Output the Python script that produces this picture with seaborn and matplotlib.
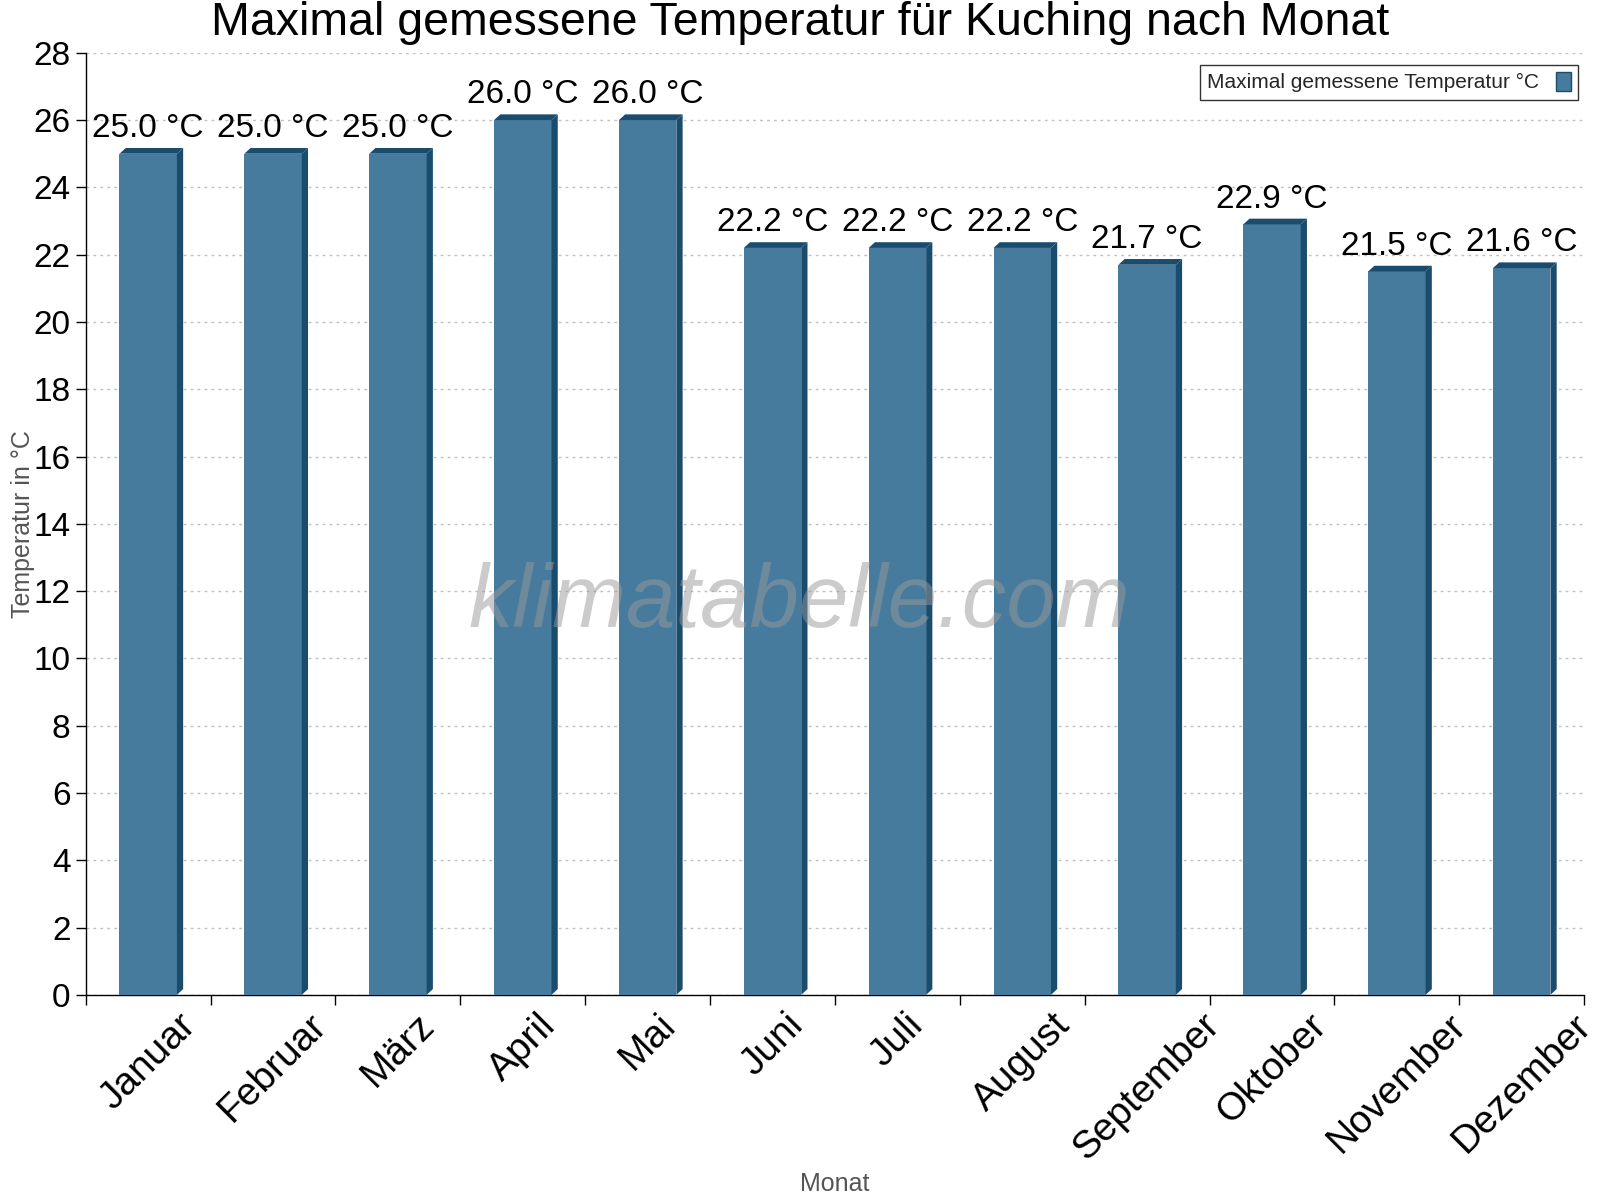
import numpy as np
import pandas as pd
import matplotlib
matplotlib.use("Agg")
import matplotlib.pyplot as plt
from matplotlib.patches import Polygon, Patch
import seaborn as sns

# ── Data ──────────────────────────────────────────────────────────────────────
months = ["Januar", "Februar", "März", "April", "Mai", "Juni", "Juli",
          "August", "September", "Oktober", "November", "Dezember"]
temp_max = [25.0, 25.0, 25.0, 26.0, 26.0, 22.2, 22.2, 22.2, 21.7, 22.9, 21.5, 21.6]

FRONT = "#467b9e"
DARK = "#1a4c6e"
GRID = "#c0c0c0"

sns.set_theme(style="white")
plt.rcParams["font.family"] = ["Liberation Sans", "DejaVu Sans"]

df = pd.DataFrame({"Monat": months, "Temp": temp_max})

fig = plt.figure(figsize=(16, 12), dpi=100)
ax = fig.add_axes([0.0536, 0.171, 0.9365, 0.785])

sns.barplot(data=df, x="Monat", y="Temp", color=FRONT, width=0.46,
            saturation=1, ax=ax, zorder=3)

# 3D effect: top and right side faces
dx, dy = 0.05, 0.17
for bar in ax.patches:
    bar.set_edgecolor("none")
    x0 = bar.get_x()
    w = bar.get_width()
    h = bar.get_height()
    x1 = x0 + w
    top = Polygon([(x0, h), (x0 + dx, h + dy), (x1 + dx, h + dy), (x1, h)],
                  closed=True, facecolor=DARK, edgecolor="none", zorder=3)
    side = Polygon([(x1, 0), (x1 + dx, dy), (x1 + dx, h + dy), (x1, h)],
                   closed=True, facecolor=DARK, edgecolor="none", zorder=3)
    ax.add_patch(top)
    ax.add_patch(side)
    ax.text(x0 + w / 2, h + dy + 0.12, f"{h:.1f} °C",
            ha="center", va="bottom", fontsize=24, color="black", zorder=4)

ax.set_xlim(-0.5, len(months) - 0.5)
ax.set_ylim(0, 28)
ax.set_yticks(np.arange(0, 29, 2))
ax.yaxis.grid(True, linestyle=(0, (2, 3)), color=GRID, linewidth=1, zorder=0)
ax.set_axisbelow(True)

# category boundary ticks
ax.set_xticks(np.arange(-0.5, len(months)), minor=True)
ax.tick_params(axis="x", which="minor", direction="out", length=7,
               width=1, color="black", bottom=True)
ax.tick_params(axis="x", which="major", length=0, labelsize=28, pad=9,
               labelcolor="black")
ax.tick_params(axis="y", direction="out", length=7, width=1, color="black",
               labelsize=24, left=True, pad=4, labelcolor="black")
for lbl in ax.get_xticklabels():
    lbl.set_rotation(45)
    lbl.set_ha("center")
    lbl.set_va("top")

for side_name in ["top", "right"]:
    ax.spines[side_name].set_visible(False)
for side_name in ["left", "bottom"]:
    ax.spines[side_name].set_color("black")
    ax.spines[side_name].set_linewidth(1)

ax.set_xlabel("Monat", fontsize=18, color="#555555")
ax.xaxis.set_label_coords(0.5, -0.188)
ax.set_ylabel("Temperatur in °C", fontsize=18, color="#555555")
ax.yaxis.set_label_coords(-0.034, 0.5)

fig.text(0.5, 0.981, "Maximal gemessene Temperatur für Kuching nach Monat",
         ha="center", va="center", fontsize=33.5, color="black")

# watermark
ax.text(0.476, 0.415, "klimatabelle.com", transform=ax.transAxes,
        ha="center", va="center", fontsize=64, style="italic",
        color="#999999", alpha=0.5, zorder=5)

handle = Patch(facecolor=FRONT, edgecolor=DARK, linewidth=1)
leg = ax.legend([handle], ["Maximal gemessene Temperatur °C"], loc="upper right",
                bbox_to_anchor=(1.0, 0.994), fontsize=15, markerfirst=False,
                frameon=True, fancybox=False, handlelength=0.7,
                handleheight=1.0, borderpad=0.35, handletextpad=0.8,
                borderaxespad=0.3)
leg.get_frame().set_edgecolor("black")
leg.get_frame().set_linewidth(1)

plt.savefig("out.png", dpi=100, facecolor="white")
